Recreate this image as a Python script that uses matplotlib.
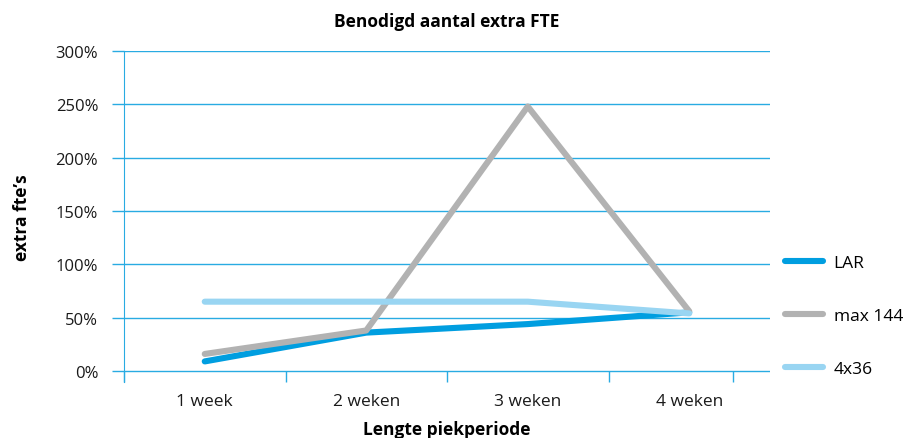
import matplotlib.pyplot as plt
from matplotlib.ticker import FixedLocator, PercentFormatter

plt.rcParams['font.family'] = ['Open Sans', 'DejaVu Sans']

categories = ['1 week', '2 weken', '3 weken', '4 weken']
lar = [9, 36, 44, 55]
max144 = [16, 38, 248, 56]
vier_x36 = [65, 65, 65, 54]

series_names = ['LAR', 'max 144', '4x36']
series_colors = ['#009ee0', '#b2b2b2', '#99d5f2']
grid_color = '#29abe2'

fig = plt.figure(figsize=(9.13, 4.39), dpi=100)
ax = fig.add_axes([124/913, 1-383/439, 646/913, 331/439])

x = list(range(len(categories)))
for vals, name, col in zip([lar, max144, vier_x36], series_names, series_colors):
    ax.plot(x, vals, color=col, linewidth=4.4, label=name, solid_capstyle='round')

ax.set_xlim(-0.5, 3.5)
ax.set_ylim(-10.3, 300)
ax.set_yticks(range(0, 301, 50))
ax.yaxis.set_major_formatter(PercentFormatter(decimals=0))
ax.grid(axis='y', color=grid_color, linewidth=1)
ax.set_axisbelow(True)

# category labels, boundary tick marks
ax.set_xticks(x)
ax.set_xticklabels(categories)
ax.xaxis.set_minor_locator(FixedLocator([-0.5, 0.5, 1.5, 2.5, 3.27]))
ax.tick_params(axis='x', which='major', length=0, pad=8, labelsize=12.5, labelcolor='#1a1a1a')
ax.tick_params(axis='x', which='minor', direction='in', length=8, width=1, color=grid_color)
ax.tick_params(axis='y', direction='out', length=8.6, width=1, color=grid_color,
               pad=10, labelsize=12, labelcolor='#1a1a1a')

for side in ['top', 'right', 'bottom']:
    ax.spines[side].set_visible(False)
ax.spines['left'].set_color(grid_color)

ax.set_title('Benodigd aantal extra FTE', fontweight='bold', fontsize=12.5, pad=18)
ax.set_xlabel('Lengte piekperiode', fontweight='bold', fontsize=12.5, labelpad=8)
ax.set_ylabel('extra fte\u2019s', fontweight='bold', fontsize=12.5, labelpad=18)

fig.legend(loc='center left', bbox_to_anchor=(785/913, 1-317/439), frameon=False,
           fontsize=12.5, handlelength=2.2, handletextpad=0.6, labelspacing=2.12,
           borderpad=0, borderaxespad=0)

fig.savefig('out.png', dpi=100)
